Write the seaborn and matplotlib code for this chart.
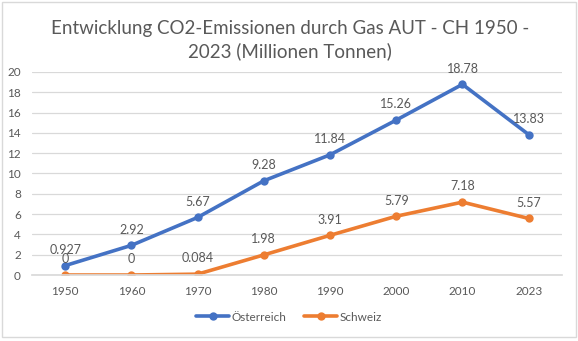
import matplotlib
matplotlib.use("Agg")
import matplotlib.pyplot as plt
import seaborn as sns
import pandas as pd
import numpy as np

years = ["1950", "1960", "1970", "1980", "1990", "2000", "2010", "2023"]
oesterreich = [0.927, 2.92, 5.67, 9.28, 11.84, 15.26, 18.78, 13.83]
schweiz = [0, 0, 0.084, 1.98, 3.91, 5.79, 7.18, 5.57]
oe_labels = ["0.927", "2.92", "5.67", "9.28", "11.84", "15.26", "18.78", "13.83"]
ch_labels = ["0", "0", "0.084", "1.98", "3.91", "5.79", "7.18", "5.57"]

sns.set_theme(style="white")
plt.rcParams['font.family'] = ['Lato', 'DejaVu Sans']

TXT = "#595959"
BLUE = "#4472C4"
ORANGE = "#ED7D31"

df = pd.DataFrame({
    "pos": list(range(len(years))) * 2,
    "value": oesterreich + schweiz,
    "series": ["Österreich"] * len(years) + ["Schweiz"] * len(years),
})

fig = plt.figure(figsize=(5.78, 3.41), dpi=100)
ax = fig.add_axes([0.0554, 0.1935, 0.9166, 0.5955])

sns.lineplot(data=df, x="pos", y="value", hue="series",
             palette={"Österreich": BLUE, "Schweiz": ORANGE},
             marker="o", markersize=6, markeredgewidth=0, linewidth=2.6,
             ax=ax, legend=True)

ax.set_xlim(-0.5, len(years) - 0.5)
ax.set_ylim(0, 20)
ax.set_yticks(range(0, 21, 2))
ax.set_xticks(range(len(years)))
ax.set_xticklabels(years)
ax.grid(axis="y", color="#D9D9D9", linewidth=0.9)
ax.set_axisbelow(True)
for s in ["top", "right", "left"]:
    ax.spines[s].set_visible(False)
ax.spines["bottom"].set_color("#D9D9D9")
ax.tick_params(axis="both", length=0, labelsize=8.5, colors=TXT, pad=8)
ax.set_xlabel("")
ax.set_ylabel("")

for i, (v, l) in enumerate(zip(oesterreich, oe_labels)):
    ax.annotate(l, (i, v), xytext=(0, 7), textcoords="offset points",
                ha="center", va="bottom", fontsize=9, color=TXT)
for i, (v, l) in enumerate(zip(schweiz, ch_labels)):
    ax.annotate(l, (i, v), xytext=(0, 7), textcoords="offset points",
                ha="center", va="bottom", fontsize=9, color=TXT)

fig.text(0.502, 0.94, "Entwicklung CO2-Emissionen durch Gas AUT - CH 1950 -\n2023 (Millionen Tonnen)",
         ha="center", va="top", fontsize=13.5, color=TXT, linespacing=1.35)

handles, labels = ax.get_legend_handles_labels()
ax.legend(handles, labels, loc="center", bbox_to_anchor=(0.5, 0.07),
          bbox_transform=fig.transFigure, ncol=2, frameon=False,
          fontsize=8.5, labelcolor=TXT, handlelength=2.8, columnspacing=1.5,
          handletextpad=0.2)

fig.patches.append(matplotlib.patches.Rectangle((0.004, 0.012), 0.992, 0.982,
                   transform=fig.transFigure, fill=False, edgecolor="#D9D9D9", linewidth=1))

fig.savefig("out.png", dpi=100)
